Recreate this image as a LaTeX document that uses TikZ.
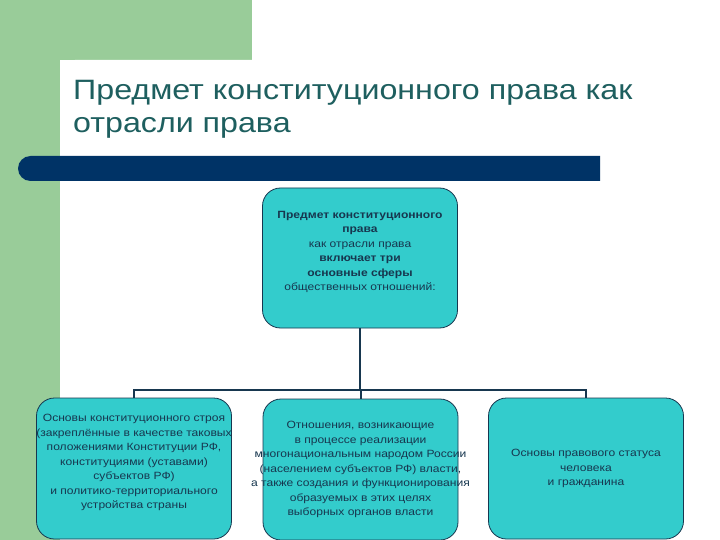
\documentclass[tikz,border=0pt]{standalone}
\usepackage{fontspec}
\setmainfont[FakeStretch=1.15]{Liberation Sans}
\definecolor{leafgreen}{HTML}{99CC99}
\definecolor{barblue}{HTML}{003366}
\definecolor{boxteal}{HTML}{33CCCC}
\definecolor{titleteal}{HTML}{1E5F5F}
\definecolor{inkblue}{HTML}{17374F}
\begin{document}
\begin{tikzpicture}[x=1pt, y=-1pt,
  every node/.style={inner sep=0pt},
  sphere/.style={draw=inkblue, line width=0.8pt, fill=boxteal, rounded corners=18pt,
    minimum width=195pt, minimum height=141pt},
  spheretext/.style={align=center, text=inkblue, font=\fontsize{10.5}{14.5}\selectfont},
  wire/.style={draw=inkblue, line width=2pt}]
  \useasboundingbox (0,0) rectangle (720,540);
  \fill[leafgreen] (0,0) rectangle (252,60);
  \fill[leafgreen] (0,0) rectangle (60,540);
  \fill[white] (60,540) [rounded corners=15pt] -- (60,60) [sharp corners] -- (720,60) -- (720,540) -- cycle;
  \fill[barblue] (600,156) [rounded corners=12.5pt] -- (18,156) -- (18,181) [sharp corners] -- (600,181) -- cycle;
  \node[anchor=base west, text=titleteal, align=left, font=\fontsize{28}{33}\selectfont] (title) at (73,133)
    {Предмет конституционного права как\\отрасли права};
  \node[sphere, minimum height=140pt] (top) at (360,258) {};
  \node[sphere] (b1) at (134,468.5) {};
  \node[sphere] (b2) at (360.5,469.5) {};
  \node[sphere] (b3) at (586,468.5) {};
  \node[spheretext] (topt) at ([yshift=6pt]top.center)
    {\textbf{Предмет конституционного}\\\textbf{права}\\как отрасли права\\\textbf{включает три}\\\textbf{основные сферы}\\общественных отношений:};
  \node[spheretext] (t1) at ([yshift=6pt]b1.center)
    {Основы конституционного строя\\(закреплённые в качестве таковых\\положениями Конституции РФ,\\конституциями (уставами)\\субъектов РФ)\\и политико-территориального\\устройства страны};
  \node[spheretext] (t2) at (b2.center)
    {Отношения, возникающие\\в процессе реализации\\многонациональным народом России\\(населением субъектов РФ) власти,\\а также создания и функционирования\\образуемых в этих целях\\выборных органов власти};
  \node[spheretext] (t3) at (b3.center)
    {Основы правового статуса\\человека\\и гражданина};
  \coordinate (bus) at (360,390);
  \draw[wire] (top.south) -- (bus);
  \foreach \i in {1,2,3} {
    \draw[wire] (bus) -| (b\i.north);
  }
\end{tikzpicture}
\end{document}
